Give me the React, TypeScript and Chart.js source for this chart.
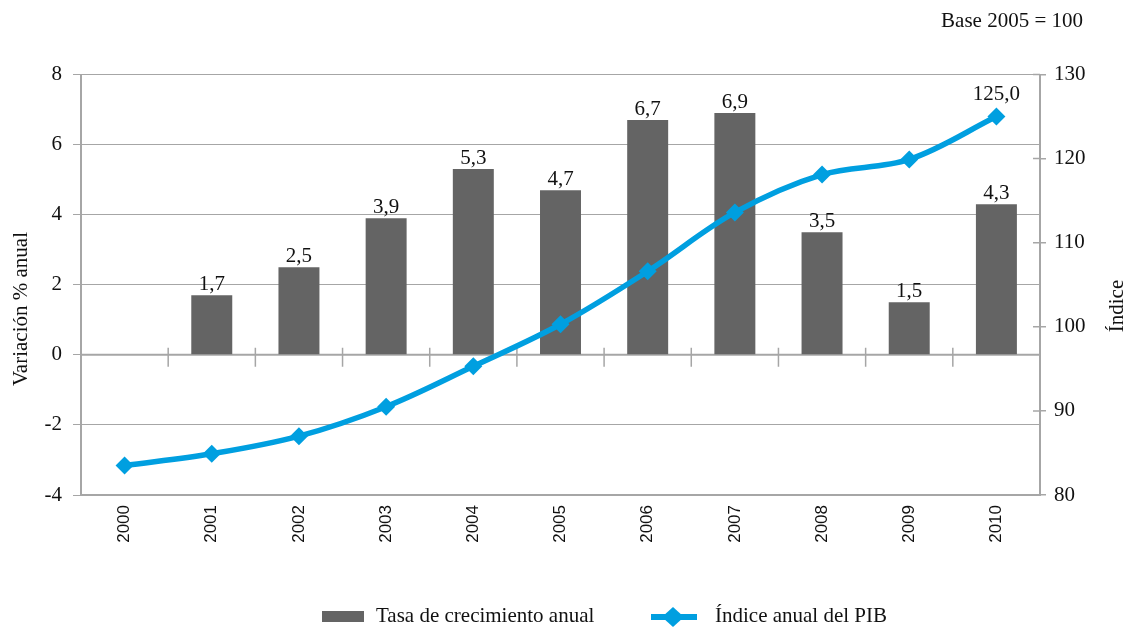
import React, { useEffect, useRef } from "react";
import { Chart, registerables } from "chart.js";

Chart.register(...registerables);

const years = ["2000", "2001", "2002", "2003", "2004", "2005", "2006", "2007", "2008", "2009", "2010"];
const growthRates: (number | null)[] = [null, 1.7, 2.5, 3.9, 5.3, 4.7, 6.7, 6.9, 3.5, 1.5, 4.3];
const gdpIndex = [83.5, 84.9, 87.0, 90.5, 95.3, 100.3, 106.6, 113.6, 118.1, 119.9, 125.0];
const labeledIndexPoints = [10];

const leftTitle = "Variación % anual";
const rightTitle = "Índice";
const baseNote = "Base 2005 = 100";
const barSeriesName = "Tasa de crecimiento anual";
const lineSeriesName = "Índice anual del PIB";

const SERIF = "'Liberation Serif', 'Times New Roman', serif";
const SANS = "'Liberation Sans', Arial, sans-serif";
const BAR_COLOR = "#646464";
const LINE_COLOR = "#009fe0";
const GRID = "#a6a6a6";
const TEXT = "#111111";

const fmt = (v: number) => v.toFixed(1).replace(".", ",");

function diamond(ctx: CanvasRenderingContext2D, x: number, y: number, rx: number, ry: number) {
  ctx.beginPath();
  ctx.moveTo(x, y - ry);
  ctx.lineTo(x + rx, y);
  ctx.lineTo(x, y + ry);
  ctx.lineTo(x - rx, y);
  ctx.closePath();
  ctx.fill();
}

const decorPlugin = {
  id: "decor",
  beforeDatasetsDraw(chart: any) {
    const { ctx, chartArea: a, scales } = chart;
    const y0 = scales.y.getPixelForValue(0);
    ctx.save();
    ctx.strokeStyle = GRID;
    ctx.lineWidth = 2;
    ctx.beginPath();
    ctx.moveTo(a.left, y0);
    ctx.lineTo(a.right, y0);
    ctx.stroke();
    // category boundary ticks on the zero line
    const n = years.length;
    const w = (a.right - a.left) / n;
    ctx.lineWidth = 1.5;
    ctx.beginPath();
    for (let k = 1; k < n; k++) {
      const x = scales.x.getPixelForValue(k) - w / 2;
      ctx.moveTo(x, y0 - 7);
      ctx.lineTo(x, y0 + 12);
    }
    ctx.stroke();
    // inner part of right axis ticks
    ctx.beginPath();
    scales.y1.ticks.forEach((t: any) => {
      const y = scales.y1.getPixelForValue(t.value);
      ctx.moveTo(a.right - 7, y);
      ctx.lineTo(a.right, y);
    });
    ctx.stroke();
    ctx.restore();
  },
  afterDatasetsDraw(chart: any) {
    const { ctx } = chart;
    ctx.save();
    ctx.fillStyle = TEXT;
    ctx.font = `21px ${SERIF}`;
    ctx.textAlign = "center";
    ctx.textBaseline = "alphabetic";
    // bar data labels
    const barMeta = chart.getDatasetMeta(1);
    barMeta.data.forEach((el: any, i: number) => {
      const v = growthRates[i];
      if (v === null || v === undefined) return;
      ctx.fillText(fmt(v), el.x, el.y - 5);
    });
    // line data labels
    const lineMeta = chart.getDatasetMeta(0);
    labeledIndexPoints.forEach((i) => {
      const el = lineMeta.data[i];
      ctx.fillText(fmt(gdpIndex[i]), el.x, el.y - 17);
    });
    // axis titles
    ctx.textBaseline = "middle";
    ctx.save();
    ctx.translate(21, 309);
    ctx.rotate(-Math.PI / 2);
    ctx.fillText(leftTitle, 0, 0);
    ctx.restore();
    ctx.save();
    ctx.translate(1117, 306);
    ctx.rotate(-Math.PI / 2);
    ctx.fillText(rightTitle, 0, 0);
    ctx.restore();
    // base note
    ctx.textAlign = "right";
    ctx.fillText(baseNote, 1083, 21);
    // legend
    ctx.textAlign = "left";
    ctx.fillStyle = BAR_COLOR;
    ctx.fillRect(322, 611, 42, 11);
    ctx.fillStyle = TEXT;
    ctx.fillText(barSeriesName, 376, 616);
    ctx.strokeStyle = LINE_COLOR;
    ctx.lineWidth = 6;
    ctx.beginPath();
    ctx.moveTo(651, 617);
    ctx.lineTo(697, 617);
    ctx.stroke();
    ctx.fillStyle = LINE_COLOR;
    diamond(ctx, 673, 617, 11, 10);
    ctx.fillStyle = TEXT;
    ctx.fillText(lineSeriesName, 715, 616);
    ctx.restore();
  },
};

export default function App() {
  const canvasRef = useRef<HTMLCanvasElement | null>(null);

  useEffect(() => {
    const canvas = canvasRef.current;
    if (!canvas) return;
    const chart = new Chart(canvas, {
      type: "bar",
      data: {
        labels: years,
        datasets: [
          {
            type: "line",
            label: lineSeriesName,
            data: gdpIndex,
            yAxisID: "y1",
            borderColor: LINE_COLOR,
            backgroundColor: LINE_COLOR,
            borderWidth: 5.5,
            tension: 0.35,
            pointStyle: "rectRot",
            pointRadius: 9,
            pointBorderWidth: 0,
            pointBackgroundColor: LINE_COLOR,
            order: 0,
          } as any,
          {
            type: "bar",
            label: barSeriesName,
            data: growthRates,
            yAxisID: "y",
            backgroundColor: BAR_COLOR,
            barPercentage: 0.47,
            categoryPercentage: 1,
            order: 1,
          } as any,
        ],
      },
      options: {
        responsive: false,
        animation: false,
        layout: { padding: { top: 74.5, left: 0, right: 0, bottom: 0 } },
        plugins: {
          legend: { display: false },
          tooltip: { enabled: false },
        },
        scales: {
          x: {
            offset: true,
            grid: { display: false, drawTicks: false },
            border: { display: true, color: GRID, width: 2 },
            ticks: {
              minRotation: 90,
              maxRotation: 90,
              padding: 10,
              color: TEXT,
              font: { family: SANS, size: 17 },
            },
            afterFit: (s: any) => {
              s.height = 134;
            },
          },
          y: {
            position: "left",
            min: -4,
            max: 8,
            ticks: {
              stepSize: 2,
              padding: 11,
              color: TEXT,
              font: { family: SERIF, size: 21 },
            },
            grid: { color: GRID, lineWidth: 1, tickLength: 8 },
            border: { display: true, color: GRID, width: 2 },
            afterFit: (s: any) => {
              s.width = 81;
            },
          },
          y1: {
            position: "right",
            min: 80,
            max: 130,
            ticks: {
              stepSize: 10,
              padding: 8,
              color: TEXT,
              font: { family: SERIF, size: 21 },
            },
            grid: { drawOnChartArea: false, color: GRID, tickLength: 6, lineWidth: 1.5 },
            border: { display: true, color: GRID, width: 2 },
            afterFit: (s: any) => {
              s.width = 90;
            },
          },
        },
      } as any,
      plugins: [decorPlugin],
    });
    return () => chart.destroy();
  }, []);

  return (
    <div style={{ position: "fixed", left: 0, top: 0, width: 1130, height: 629, background: "#fff" }}>
      <canvas ref={canvasRef} width={1130} height={629} style={{ display: "block" }} />
    </div>
  );
}
